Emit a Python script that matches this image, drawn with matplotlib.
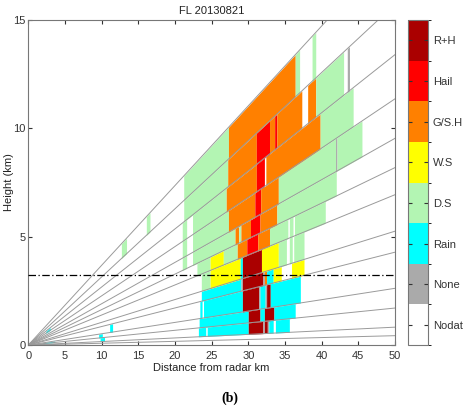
import numpy as np
import matplotlib
matplotlib.use('Agg')
import matplotlib.pyplot as plt
from matplotlib.colors import ListedColormap, BoundaryNorm
from matplotlib.cm import ScalarMappable

# class codes: 0 Nodat, 1 None, 2 Rain, 3 D.S, 4 W.S, 5 G/S.H, 6 Hail, 7 R+H
class_names = ['Nodat', 'None', 'Rain', 'D.S', 'W.S', 'G/S.H', 'Hail', 'R+H']
class_colors = ['#ffffff', '#aaaaaa', '#00ffff', '#b3f5b3', '#ffff00', '#ff8000', '#ff0000', '#aa0000']

# elevation angles of the scan (deg)
beam_angles = [0.5, 0.95, 1.96, 3.0, 4.9, 6.0, 7.9, 9.3, 10.8, 12.8, 15.0, 17.45, 20.2]

# classified range segments per band (start km, end km, class), lowest band first
band0 = []
band1 = [(9.8, 10.4, 2), (23.2, 24.2, 2), (24.4, 30.0, 2), (30.0, 32.0, 7), (32.0, 32.2, 1),
         (32.2, 32.6, 7), (32.6, 32.8, 1), (32.8, 33.4, 2), (33.7, 35.6, 2)]
band2 = [(2.0, 3.6, 2), (9.6, 10.1, 2), (23.3, 30.0, 2), (30.0, 31.6, 7), (31.6, 32.2, 2),
         (32.2, 33.5, 7), (33.5, 36.4, 2)]
band3 = [(11.1, 11.5, 2), (23.4, 23.7, 2), (23.9, 29.2, 2), (29.2, 31.4, 7), (31.4, 31.6, 1),
         (31.6, 32.3, 2), (32.3, 32.5, 1), (32.5, 33.0, 7), (33.0, 37.1, 2)]
band4 = [(23.6, 29.0, 2), (29.0, 29.2, 1), (29.2, 32.0, 7), (32.0, 32.2, 1), (32.2, 32.5, 5),
         (32.5, 33.4, 2), (33.4, 34.5, 4), (35.9, 37.6, 4)]
band5 = [(23.6, 24.8, 3), (24.8, 28.9, 4), (28.9, 29.2, 2), (29.2, 31.8, 7), (31.8, 34.1, 4),
         (34.1, 35.2, 3), (35.6, 36.0, 3), (36.2, 37.6, 3)]
band6 = [(23.0, 24.8, 3), (24.8, 26.6, 4), (26.6, 28.5, 3), (28.5, 29.8, 5), (29.8, 31.3, 6),
         (31.3, 32.9, 5), (32.9, 35.4, 3), (35.6, 36.1, 3), (36.3, 40.5, 3)]
band7 = [(21.0, 21.6, 3), (22.4, 28.2, 3), (28.2, 28.7, 5), (28.7, 29.0, 3), (29.0, 30.3, 5),
         (30.3, 31.6, 6), (31.6, 33.9, 5), (33.9, 42.0, 3)]
band8 = [(21.0, 21.6, 3), (22.4, 27.3, 3), (27.3, 30.9, 5), (30.9, 31.7, 6), (31.7, 34.1, 5),
         (34.1, 41.9, 3), (41.9, 42.1, 1), (42.1, 45.5, 3)]
band9 = [(2.4, 3.0, 2), (21.0, 21.6, 3), (22.4, 27.0, 3), (27.0, 31.1, 5), (31.1, 32.2, 6),
         (32.4, 39.8, 5), (39.8, 44.3, 3)]
band10 = [(21.2, 27.2, 3), (27.2, 31.1, 5), (31.1, 32.9, 6), (32.9, 33.6, 5), (33.6, 33.9, 6),
          (33.9, 37.3, 5), (38.1, 39.2, 5), (39.2, 43.0, 3), (43.5, 43.8, 1)]
band11 = [(12.7, 13.4, 3), (16.1, 16.6, 3), (21.2, 27.3, 3), (27.3, 36.4, 5), (36.4, 37.0, 3),
          (38.7, 39.2, 3)]
bands = [band0, band1, band2, band3, band4, band5, band6, band7, band8, band9, band10, band11]

melting_level = 3.25

fontSize = 8
plt.rcParams['font.family'] = ['Liberation Sans', 'DejaVu Sans']
fig = plt.figure(figsize=(4.63, 4.07), dpi=100)
ax = fig.add_axes([0.061, 0.152, 0.792, 0.799])

# Fill the classified bins between neighbouring rays
tans = np.tan(np.radians(beam_angles))
for k, segs in enumerate(bands):
  for x0, x1, cls in segs:
    if cls == 0:
      continue
    xs = np.array([x0, x1])
    ax.fill_between(xs, xs * tans[k], xs * tans[k + 1], color=class_colors[cls], lw=0, zorder=1)

# Rays
for a in beam_angles:
  r = 80
  ax.plot([0, r * np.cos(np.radians(a))], [0, r * np.sin(np.radians(a))], color='#9a9a9a', lw=0.7, zorder=2)

# Melting level
ax.axhline(melting_level, color='black', ls=(0, (6, 2, 1, 2)), lw=0.9, zorder=3)

ax.set_xlim(0, 50)
ax.set_ylim(0, 15)
ax.set_xticks(range(0, 51, 5))
ax.set_yticks([0, 5, 10, 15])
ax.tick_params(direction='in', top=True, right=True, labelsize=fontSize, colors='#333333', length=3)
ax.tick_params(axis='x', pad=4)
ax.tick_params(axis='y', pad=2)
for s in ax.spines.values():
  s.set_color('#777777')
  s.set_linewidth(0.8)
ax.set_xlabel('Distance from radar km', fontsize=fontSize, color='#222222', labelpad=2)
ax.set_ylabel('Height (km)', fontsize=fontSize, color='#222222')
ax.yaxis.set_label_coords(-0.04, 0.5)
ax.set_title('FL 20130821', fontsize=fontSize, color='#222222', pad=4)

# Colour bar
cax = fig.add_axes([0.881, 0.152, 0.043, 0.799])
cmap = ListedColormap(class_colors)
norm = BoundaryNorm(np.arange(-0.5, 8.5, 1), cmap.N)
cb = fig.colorbar(ScalarMappable(norm=norm, cmap=cmap), cax=cax, ticks=range(8))
cb.ax.set_yticklabels(class_names)
cb.ax.tick_params(direction='in', left=True, right=True, labelsize=fontSize, colors='#333333', length=3)
cb.outline.set_edgecolor('#777777')
cb.outline.set_linewidth(0.8)

fig.text(0.497, 0.022, '(b)', ha='center', va='center', fontsize=10,
         family=['Liberation Serif', 'DejaVu Serif'], fontweight='bold')

plt.savefig('out.png', dpi=100)
